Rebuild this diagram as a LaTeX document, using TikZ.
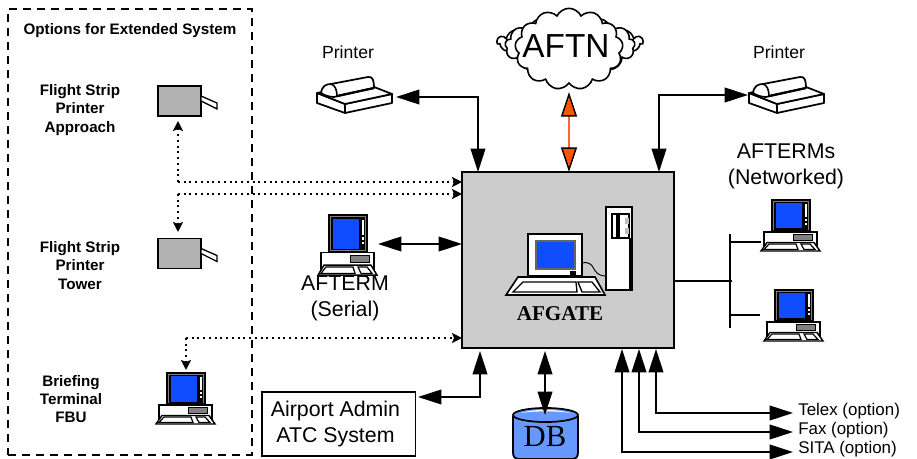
\documentclass[tikz,border=0pt]{standalone}
\usepackage{fontspec}
\setmainfont{Liberation Sans}
\newfontfamily\serifx{Liberation Serif}
\usetikzlibrary{arrows.meta,shapes.symbols}
\definecolor{scr}{HTML}{0F4DFF}
\definecolor{dbblue}{HTML}{6699FF}
\definecolor{orgfill}{HTML}{FF5500}
\definecolor{orgline}{HTML}{FF6633}
\tikzset{
  x=0.75pt,y=-0.75pt,
  lbl/.style={inner sep=0pt,align=center,font=\fontsize{16}{19.5}\selectfont},
  plbl/.style={inner sep=0pt,font=\fontsize{13.2}{16}\selectfont},
  optlbl/.style={inner sep=0pt,align=center,font=\fontsize{11.4}{13.6}\selectfont\bfseries},
  elbl/.style={inner sep=0pt,anchor=west,font=\fontsize{12.7}{15}\selectfont},
  big/.style={{Triangle[length=17.5pt,width=11pt]}-{Triangle[length=17.5pt,width=11pt]},line width=1.3pt},
  org/.style={{Triangle[length=18.5pt,width=12pt,fill=orgfill]}-{Triangle[length=18.5pt,width=12pt,fill=orgfill]},line width=1.1pt,draw=orgline,arrows={[color=black]}},
  dots/.style={line width=1.5pt,dash pattern=on 1.5pt off 2.8pt,-{Stealth[length=7.5pt,width=7.5pt,inset=1.5pt]}},
  netl/.style={line width=1.3pt},
  cl/.style={cloud,draw,fill=white,line width=1.2pt,inner sep=0pt,cloud ignores aspect},
  strip/.pic={
    \draw[line width=1.4pt,fill=black!30] (0,0) rectangle (43,30);
    \draw[line width=1pt,fill=white] (43,10) -- (59,17) -- (59,23) -- (43,15) -- cycle;
  },
  terminal/.pic={
    \draw[line width=.8pt,fill=black!50] (0,0) rectangle (38,31);
    \fill[black] (2,2) rectangle (36,30);
    \fill[scr] (3.5,3.5) rectangle (30,28.5);
    \fill[white] (32.5,4) rectangle (34.5,17);
    \fill[white] (32.5,19) rectangle (34.5,21);
    \fill[white] (32.5,23) rectangle (34.5,25);
    \draw[line width=1pt,fill=white] (-8,32) rectangle (45,46);
    \draw[line width=.6pt,fill=black!50] (21,34.5) rectangle (40,40);
    \draw[line width=1.1pt,fill=white] (-11,51) -- (-5,42.5) -- (42,42.5) -- (48,51) -- cycle;
    \draw[line width=.9pt] (-8,49.5) -- (-3,44) -- (24,44) -- (26,49.5) -- cycle;
    \draw[line width=.9pt] (29,44) -- (38,44) -- (43,49.5) -- (32,49.5) -- cycle;
  },
  printer/.pic={
    \draw[line width=1.3pt,fill=white,line join=round] (0,17) -- (0,27) -- (28,37) -- (75,27) -- (75,18) -- (28,28) -- cycle;
    \draw[line width=1.3pt,fill=white,line join=round] (0,17) -- (47,7) -- (57,11) -- (75,18) -- (28,28) -- cycle;
    \draw[line width=1.3pt] (28,28) -- (28,37);
    \draw[line width=1.3pt,fill=white,line join=round] (4,17) .. controls (5,10) and (9,8) .. (14,8) -- (51,1) .. controls (56,0) and (57,5) .. (57,12) -- (17,21) .. controls (14,21) and (8,20) .. (4,17) -- cycle;
    \draw[line width=1.2pt] (14,8) .. controls (18,9) and (20,14) .. (20,20);
    \draw[line width=1.7pt] (20,20) -- (57,12);
  },
}
\begin{document}
\begin{tikzpicture}
\useasboundingbox (0,0) rectangle (917,459);
% options frame
\node[draw,line width=1.5pt,dash pattern=on 6pt off 4.5pt,minimum width=182.5pt,minimum height=334.5pt,inner sep=0pt,outer sep=0pt] (optbox) at (130,232) {};
\node[optlbl] (opttitle) at (130,31) {Options for Extended System};
\node[optlbl] (fsa) at (80,110) {Flight Strip\\Printer\\Approach};
\node[optlbl] (fst) at (80,265.5) {Flight Strip\\Printer\\Tower};
\node[optlbl] (brf) at (71,399) {Briefing\\Terminal\\FBU};
% central box
\node[draw,fill=black!20,line width=1.3pt,minimum width=159pt,minimum height=132pt,inner sep=0pt,outer sep=0pt] (afgate) at (568,260) {};
% strip printers
\pic at (158,86) {strip};
\pic at (158,238.5) {strip};
\coordinate (fsain) at (178,121);
\coordinate (fstin) at (178,232);
\coordinate (brfin) at (186,370);
% terminals
\pic at (167,373) {terminal};
\pic[yscale=1.18] at (329,215) {terminal};
\pic at (772,200) {terminal};
\pic at (775,290) {terminal};
% printers
\pic at (317,76) {printer};
\pic at (749,76) {printer};
\node[plbl] (p1l) at (348,52) {Printer};
\node[plbl] (p2l) at (779,52) {Printer};
% cloud
\node[cl,cloud puffs=15,minimum width=109.5pt,minimum height=27pt] (cback) at (570,42) {};
\node[cl,cloud puffs=13,minimum width=97.5pt,minimum height=46pt] (cmid) at (570,46) {};
\node[cl,cloud puffs=13,cloud puff arc=130,minimum width=81pt,minimum height=61pt] (aftn) at (569,49) {};
\node[inner sep=0pt,font=\fontsize{25}{29}\selectfont] (aftnl) at (566,46) {AFTN};
% AFGATE PC
\draw[line width=1pt,fill=white] (606,207) rectangle (632,290);
\fill[black] (629,238) rectangle (633,290);
\draw[line width=1pt,fill=white] (612,214) rectangle (629,238);
\fill[black] (616,214) rectangle (619.5,238);
\fill[black!25] (625,218) rectangle (629,224);
\fill[black!25] (625,228) rectangle (629,234);
\draw[line width=1pt,fill=white] (528,234) rectangle (582,276);
\draw[line width=1pt,draw=black!60,fill=scr] (536,241) rectangle (575,269);
\fill[black] (570,271) rectangle (576,275);
\draw[line width=.7pt] (582,263) .. controls (597,260) and (590,276) .. (606,276);
\draw[line width=1.2pt,fill=white] (506,295) -- (518,277) -- (595,277) -- (605,295) -- cycle;
\draw[line width=1pt] (513,292) -- (523,282) -- (576,282) -- (577,292) -- cycle;
\draw[line width=1pt] (578,282) -- (592,282) -- (600,292) -- (582,292) -- cycle;
\node[inner sep=0pt,font=\fontsize{15.8}{19}\selectfont\serifx\bfseries] (afgatel) at (560,314) {AFGATE};
% labels
\node[lbl] (serl) at (345,298) {AFTERM\\(Serial)};
\node[lbl] (netl1) at (786,166) {AFTERMs\\(Networked)};
% admin
\node[draw,line width=1pt,align=center,minimum width=115pt,minimum height=48pt,inner sep=0pt,outer sep=0pt,font=\fontsize{16}{19.5}\selectfont] (admin) at (338.5,424) {Airport Admin\kern4.5pt\\ATC System\kern4.5pt};
% DB
\fill[dbblue] (513,416) -- (513,452) .. controls (513,457) and (515,459) .. (519,459) -- (572,459) .. controls (576,459) and (578,457) .. (578,452) -- (578,416) -- cycle;
\draw[line width=1.4pt] (513,416) -- (513,452) .. controls (513,457) and (515,459) .. (519,459) -- (572,459) .. controls (576,459) and (578,457) .. (578,452) -- (578,416);
\draw[line width=1.3pt,fill=dbblue] (545.5,415) ellipse [x radius=32.5,y radius=7];
\fill[white] (521,413) .. controls (535,408.8) and (556,408.8) .. (570,413) .. controls (556,410.8) and (535,410.8) .. (521,413);
\node[inner sep=0pt,font=\fontsize{23}{27}\selectfont\serifx] (db) at (545,437) {DB};
% connectors
\coordinate (p1in) at (396,97);
\coordinate (p2in) at (748,95);
\coordinate (serin) at (378,244);
\coordinate (admin2) at (418,397);
\coordinate (dbtop) at (545,415);
\coordinate (aftnb) at (569,92);
\draw[big] (p1in) -| (afgate.north -| 478,0);
\draw[big] (p2in) -| (afgate.north -| 659,0);
\draw[org] (aftnb) -- (afgate.north -| aftnb);
\draw[big] (serin) -- (afgate.west |- serin);
\draw[big] (admin2) -| (480,351);
\draw[big] (dbtop) -- (545,351);
\coordinate (telex) at (793,413);
\coordinate (fax) at (793,432);
\coordinate (sita) at (793,452);
\draw[big] (telex) -| (656,349);
\draw[big] (fax) -| (639,349);
\draw[big] (sita) -| (622,349);
\node[elbl] (telexl) at (798,411) {Telex (option)};
\node[elbl] (faxl) at (798,430.5) {Fax (option)};
\node[elbl] (sital) at (798,449.5) {SITA (option)};
% dotted
\draw[dots] (178,182) -- (fsain);
\draw[dots] (178,182) -- (afgate.west |- 178,182);
\draw[dots] (178,194) -- (fstin);
\draw[dots] (178,194) -- (afgate.west |- 178,194);
\draw[dots] (186,338) -- (brfin);
\draw[dots] (186,338) -- (afgate.west |- 186,338);
% network
\coordinate (busm) at (732,281);
\draw[netl] (afgate.east |- busm) -- (busm);
\coordinate (bust) at (730,234);
\coordinate (busb) at (730,328);
\draw[netl] (bust) -- (busb);
\coordinate (n1) at (761,242);
\coordinate (n2) at (760,315);
\draw[netl] (n1) -- (bust |- n1);
\draw[netl] (n2) -- (bust |- n2);
\end{tikzpicture}
\end{document}
